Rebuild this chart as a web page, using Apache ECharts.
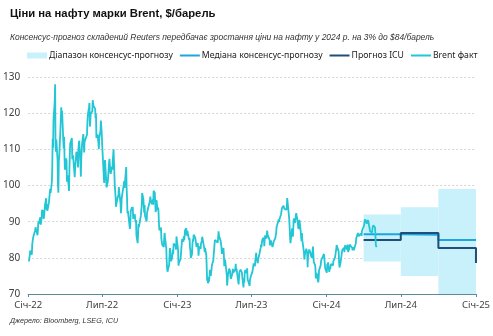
<!DOCTYPE html>
<html><head><meta charset="utf-8">
<script src="https://cdn.jsdelivr.net/npm/echarts@6/dist/echarts.min.js"></script>
<style>html,body{margin:0;padding:0;background:#fff}#c{width:493px;height:336px}</style>
</head><body><div id="c"></div>
<script>
// ---- Data ----
const titleText = 'Ціни на нафту марки Brent, $/барель';
const subtitleText = 'Консенсус-прогноз складений Reuters передбачає зростання ціни на нафту у 2024 р. на 3% до $84/барель';
const sourceText = 'Джерело: Bloomberg, LSEG, ICU';
const seriesNames = ['Діапазон консенсус-прогнозу', 'Медіана консенсус-прогнозу', 'Прогноз ICU', 'Brent факт'];
const monthNames = ['Січ','Лют','Бер','Кві','Тра','Чер','Лип','Сер','Вер','Жов','Лис','Гру'];

// Quarterly forecast periods (start, end)
const quarterStarts = ['2024-04-01', '2024-07-01', '2024-10-01'];
const quarterEnds   = ['2024-07-01', '2024-10-01', '2025-01-01'];
const rangeLow  = [79, 75, 70];
const rangeHigh = [92, 94, 99];
// Step line points (quarter starts + end of horizon)
const forecastDates = ['2024-04-01', '2024-07-01', '2024-10-01', '2025-01-01'];
const medianValues  = [86.5, 86.4, 84.9, 84.9];
const icuValues     = [84.9, 86.9, 82.7, 78.6];

// Brent daily closes
const brent2022Days = ['01-03','01-04','01-05','01-06','01-07','01-10','01-11','01-12','01-13','01-14','01-17','01-18','01-19','01-20','01-21','01-24','01-25','01-26','01-27','01-28','01-31',
'02-01','02-02','02-03','02-04','02-07','02-08','02-09','02-10','02-11','02-14','02-15','02-16','02-17','02-18','02-21','02-22','02-23','02-24','02-25','02-28',
'03-01','03-02','03-03','03-04','03-07','03-08','03-09','03-10','03-11','03-14','03-15','03-16','03-17','03-18','03-21','03-22','03-23','03-24','03-25','03-28','03-29','03-30','03-31',
'04-01','04-04','04-05','04-06','04-07','04-08','04-11','04-12','04-13','04-14','04-18','04-19','04-20','04-21','04-22','04-25','04-26','04-27','04-28','04-29',
'05-02','05-03','05-04','05-05','05-06','05-09','05-10','05-11','05-12','05-13','05-16','05-17','05-18','05-19','05-20','05-23','05-24','05-25','05-26','05-27','05-30','05-31',
'06-01','06-02','06-03','06-06','06-07','06-08','06-09','06-10','06-13','06-14','06-15','06-16','06-17','06-20','06-21','06-22','06-23','06-24','06-27','06-28','06-29','06-30',
'07-01','07-05','07-06','07-07','07-08','07-11','07-12','07-13','07-14','07-15','07-18','07-19','07-20','07-21','07-22','07-25','07-26','07-27','07-28','07-29',
'08-01','08-02','08-03','08-04','08-05','08-08','08-09','08-10','08-11','08-12','08-15','08-16','08-17','08-18','08-19','08-22','08-23','08-24','08-25','08-26','08-29','08-30','08-31',
'09-01','09-02','09-06','09-07','09-08','09-09','09-12','09-13','09-14','09-15','09-16','09-19','09-20','09-21','09-22','09-23','09-26','09-27','09-28','09-29','09-30',
'10-03','10-04','10-05','10-06','10-07','10-10','10-11','10-12','10-13','10-14','10-17','10-18','10-19','10-20','10-21','10-24','10-25','10-26','10-27','10-28','10-31',
'11-01','11-02','11-03','11-04','11-07','11-08','11-09','11-10','11-11','11-14','11-15','11-16','11-17','11-18','11-21','11-22','11-23','11-24','11-25','11-28','11-29','11-30',
'12-01','12-02','12-05','12-06','12-07','12-08','12-09','12-12','12-13','12-14','12-15','12-16','12-19','12-20','12-21','12-22','12-23','12-27','12-28','12-29','12-30'];
const brent2022Values = [78.98,80.00,80.80,81.99,81.75,80.87,83.72,84.67,84.47,86.06,86.48,87.51,88.44,88.38,87.89,86.27,88.20,89.96,89.34,90.03,91.21,
89.16,89.47,91.11,93.27,92.69,90.78,91.55,91.41,94.44,96.48,93.28,94.81,92.97,93.54,95.39,96.84,96.84,99.08,97.93,100.99,
104.97,112.93,110.46,118.11,123.21,127.98,111.14,109.33,112.67,106.90,99.91,98.02,106.64,107.93,115.62,115.48,121.60,119.03,120.65,112.48,110.23,113.45,107.91,
104.39,107.53,106.64,101.07,100.58,102.78,98.48,104.64,108.78,111.70,113.16,107.25,106.80,108.33,106.65,102.32,104.99,105.32,107.59,109.34,
107.58,104.97,110.14,111.55,112.39,105.94,102.46,107.51,107.45,111.55,114.24,111.93,109.11,112.04,112.55,113.42,113.56,114.03,117.40,119.43,121.67,122.84,
116.29,117.61,119.72,119.51,120.57,123.58,123.07,122.01,122.27,121.17,118.51,119.81,113.12,114.13,114.65,111.74,110.05,113.12,115.09,117.98,116.26,114.81,
111.63,102.77,100.69,104.65,107.02,107.10,99.49,99.57,99.10,101.16,106.27,107.35,106.92,103.86,103.20,105.15,104.40,106.62,107.14,110.01,
100.03,100.54,96.78,94.12,94.92,96.65,96.31,97.40,99.60,98.15,95.10,92.34,93.65,96.59,96.72,96.48,100.22,101.22,99.34,100.99,105.09,99.31,96.49,
92.36,93.02,92.83,88.00,89.15,92.84,94.00,93.17,94.10,90.84,91.35,92.00,90.62,89.83,90.46,86.15,84.06,86.27,89.32,88.49,87.96,
88.86,91.80,93.37,94.42,97.92,96.19,94.29,92.45,94.57,91.63,91.62,90.03,92.41,92.38,93.50,93.26,93.52,95.69,96.96,95.77,94.83,
94.65,96.16,94.67,98.57,97.92,95.36,92.65,93.67,95.99,93.14,93.86,92.86,89.78,87.62,87.45,88.36,85.41,85.34,83.63,83.19,83.03,85.43,
86.88,85.57,82.68,79.35,77.17,76.15,76.10,77.99,80.68,82.70,81.21,79.04,79.80,79.99,82.20,80.98,83.92,84.33,83.26,82.26,85.91];

const brent2023Days = ['01-03','01-04','01-05','01-06','01-09','01-10','01-11','01-12','01-13','01-16','01-17','01-18','01-19','01-20','01-23','01-24','01-25','01-26','01-27','01-30','01-31',
'02-01','02-02','02-03','02-06','02-07','02-08','02-09','02-10','02-13','02-14','02-15','02-16','02-17','02-20','02-21','02-22','02-23','02-24','02-27','02-28',
'03-01','03-02','03-03','03-06','03-07','03-08','03-09','03-10','03-13','03-14','03-15','03-16','03-17','03-20','03-21','03-22','03-23','03-24','03-27','03-28','03-29','03-30','03-31',
'04-03','04-04','04-05','04-06','04-10','04-11','04-12','04-13','04-14','04-17','04-18','04-19','04-20','04-21','04-24','04-25','04-26','04-27','04-28',
'05-01','05-02','05-03','05-04','05-05','05-08','05-09','05-10','05-11','05-12','05-15','05-16','05-17','05-18','05-19','05-22','05-23','05-24','05-25','05-26','05-29','05-30','05-31',
'06-01','06-02','06-05','06-06','06-07','06-08','06-09','06-12','06-13','06-14','06-15','06-16','06-19','06-20','06-21','06-22','06-23','06-26','06-27','06-28','06-29','06-30',
'07-03','07-04','07-05','07-06','07-07','07-10','07-11','07-12','07-13','07-14','07-17','07-18','07-19','07-20','07-21','07-24','07-25','07-26','07-27','07-28','07-31',
'08-01','08-02','08-03','08-04','08-07','08-08','08-09','08-10','08-11','08-14','08-15','08-16','08-17','08-18','08-21','08-22','08-23','08-24','08-25','08-28','08-29','08-30','08-31',
'09-01','09-04','09-05','09-06','09-07','09-08','09-11','09-12','09-13','09-14','09-15','09-18','09-19','09-20','09-21','09-22','09-25','09-26','09-27','09-28','09-29',
'10-02','10-03','10-04','10-05','10-06','10-09','10-10','10-11','10-12','10-13','10-16','10-17','10-18','10-19','10-20','10-23','10-24','10-25','10-26','10-27','10-30','10-31',
'11-01','11-02','11-03','11-06','11-07','11-08','11-09','11-10','11-13','11-14','11-15','11-16','11-17','11-20','11-21','11-22','11-23','11-24','11-27','11-28','11-29','11-30',
'12-01','12-04','12-05','12-06','12-07','12-08','12-11','12-12','12-13','12-14','12-15','12-18','12-19','12-20','12-21','12-22','12-26','12-27','12-28','12-29'];
const brent2023Values = [82.10,77.84,78.69,78.57,79.65,80.10,82.67,84.03,85.28,84.46,85.92,84.98,86.16,87.63,88.19,86.13,86.12,87.47,86.66,84.90,85.46,
82.84,82.17,79.94,80.99,83.69,85.09,84.50,86.39,86.61,85.58,85.38,85.14,83.00,84.07,83.05,80.60,82.21,83.16,82.45,83.89,
84.31,84.75,85.83,86.18,83.29,82.66,81.59,82.78,80.77,77.45,73.69,74.70,72.97,73.79,75.32,76.69,75.91,74.99,78.12,78.65,78.28,79.27,79.77,
84.93,84.94,84.99,85.12,84.18,85.61,87.33,86.09,86.31,84.76,84.77,83.12,81.10,81.66,82.73,80.77,77.69,78.37,79.54,
79.31,75.32,72.33,72.50,75.30,77.01,77.44,76.41,74.98,74.17,75.23,74.91,76.96,75.86,75.58,75.99,76.84,78.36,76.26,76.95,77.07,73.54,72.66,
74.28,76.13,76.71,76.29,76.95,75.96,74.79,71.84,74.29,73.20,75.67,76.61,76.09,75.90,77.12,74.14,73.85,74.18,72.26,74.03,74.34,74.90,
74.65,76.25,76.65,76.52,78.47,77.69,79.40,80.11,81.36,79.87,78.50,79.63,79.46,79.64,81.07,82.74,83.64,82.92,84.24,84.99,85.56,
84.91,83.20,85.14,86.24,85.34,86.17,87.55,86.40,86.81,86.21,84.89,83.45,84.12,84.80,84.46,82.96,83.21,83.36,84.48,84.42,85.49,85.86,86.86,
88.55,88.00,90.04,90.60,89.92,90.65,90.64,92.06,91.88,93.70,93.93,94.43,94.34,93.53,93.30,93.27,93.29,93.96,96.55,95.38,95.31,
90.71,90.92,85.81,84.07,84.58,88.15,87.65,85.82,86.00,90.89,89.65,89.90,91.50,92.38,92.16,89.83,88.07,90.13,87.93,90.48,87.45,87.41,
84.63,86.85,84.89,85.18,81.61,79.54,80.01,81.43,82.52,82.47,81.18,77.42,80.61,82.32,82.45,81.96,81.42,80.58,79.98,81.68,83.10,82.83,
78.88,78.03,77.20,74.30,74.05,75.84,76.03,73.24,74.26,76.61,76.55,77.95,79.23,79.70,79.39,79.07,81.07,79.65,78.39,77.04];

const brent2024Days = ['01-02','01-03','01-04','01-05','01-08','01-09','01-10','01-11','01-12','01-15','01-16','01-17','01-18','01-19','01-22','01-23','01-24','01-25','01-26','01-29','01-30','01-31',
'02-01','02-02','02-05','02-06','02-07','02-08','02-09','02-12','02-13','02-14','02-15','02-16','02-19','02-20','02-21','02-22','02-23','02-26','02-27','02-28','02-29',
'03-01','03-04','03-05','03-06','03-07','03-08','03-11','03-12','03-13','03-14','03-15','03-18','03-19','03-20','03-21','03-22','03-25','03-26','03-27','03-28',
'04-01','04-02','04-03','04-04','04-05','04-08','04-09','04-10','04-11','04-12','04-15','04-16','04-17','04-18','04-19','04-22','04-23','04-24','04-25','04-26','04-29','04-30',
'05-01','05-02','05-03'];
const brent2024Values = [75.89,78.25,77.59,78.76,76.12,77.59,76.80,77.41,78.29,78.15,78.29,77.88,79.10,78.56,80.06,79.55,80.04,82.43,83.55,82.40,82.87,81.71,
78.70,77.33,78.99,78.59,79.21,81.63,82.19,82.00,82.77,81.60,82.86,83.47,83.56,82.34,83.03,83.67,81.62,82.53,83.65,83.68,83.62,
83.55,82.80,82.04,82.96,82.96,82.08,82.21,81.92,84.03,85.42,85.34,86.89,87.38,85.95,85.78,85.43,86.75,86.25,86.09,87.48,
87.42,88.92,89.35,90.65,91.17,90.38,89.42,90.48,89.74,90.45,90.10,90.02,87.29,87.11,87.29,87.00,88.42,88.02,89.01,89.50,88.40,87.86,
83.44,83.67,82.96];

const yMin = 70, yMax = 130, yStep = 10;
const xMin = '2022-01-01', xMax = '2025-01-01';

// ---- Build ----
function toTs(s) { const p = s.split('-').map(Number); return new Date(p[0], p[1] - 1, p[2]).getTime(); }
function join(year, days, vals) { return days.map((d, i) => [toTs(year + '-' + d), vals[i]]); }
const brentData = [].concat(join(2022, brent2022Days, brent2022Values), join(2023, brent2023Days, brent2023Values), join(2024, brent2024Days, brent2024Values));
const rangeData = quarterStarts.map((s, i) => [toTs(s), toTs(quarterEnds[i]), rangeLow[i], rangeHigh[i]]);
const medianData = forecastDates.map((d, i) => [toTs(d), medianValues[i]]);
const icuData = forecastDates.map((d, i) => [toTs(d), icuValues[i]]);

const C = { range: '#c8f1fc', median: '#1ba6e0', icu: '#1f4e79', brent: '#22c6d5', axis: '#5d8a99', text: '#404040' };
const FONT = 'Noto Sans';
const DAY = 86400000;
const noSym = { opacity: 0 };

const chart = echarts.init(document.getElementById('c'), null, { renderer: 'canvas' });
chart.setOption({
  animation: false,
  backgroundColor: '#fff',
  title: [
    { text: titleText, left: 5, top: 3, textStyle: { fontFamily: 'Liberation Sans', fontWeight: 'bold', fontSize: 11.3, color: '#111' } },
    { text: subtitleText, left: 5, top: 29, textStyle: { fontFamily: 'Liberation Sans', fontStyle: 'italic', fontWeight: 'normal', fontSize: 8.45, color: '#333' } },
    { text: sourceText, left: 5, top: 312, textStyle: { fontFamily: 'Liberation Sans', fontStyle: 'italic', fontWeight: 'normal', fontSize: 7.2, color: '#333' } }
  ],
  legend: {
    left: 27, top: 51, padding: 0, itemWidth: 20, itemHeight: 6, itemGap: 6,
    textStyle: { fontFamily: FONT, fontSize: 8.7, color: '#222', padding: [0, 0, 0, -3] },
    data: [
      { name: seriesNames[0], icon: 'rect' },
      { name: seriesNames[1], itemStyle: noSym },
      { name: seriesNames[2], itemStyle: noSym },
      { name: seriesNames[3], itemStyle: noSym }
    ]
  },
  grid: { left: 28, right: 16, top: 77, bottom: 42, containLabel: false },
  xAxis: {
    type: 'time', min: toTs(xMin), max: toTs(xMax),
    splitNumber: 6, minInterval: 180 * DAY, maxInterval: 186 * DAY,
    axisLine: { show: true, lineStyle: { color: C.axis, width: 1 } },
    axisTick: { show: true, length: 3, lineStyle: { color: C.axis } },
    splitLine: { show: false },
    axisLabel: {
      fontFamily: FONT, fontSize: 9.5, color: C.text, margin: 6, showMinLabel: true, showMaxLabel: true,
      formatter: function (v) { const d = new Date(v); return monthNames[d.getMonth()] + '-' + String(d.getFullYear()).slice(2); }
    }
  },
  yAxis: {
    type: 'value', min: yMin, max: yMax, interval: yStep,
    axisLine: { show: false }, axisTick: { show: false },
    axisLabel: { fontFamily: FONT, fontSize: 10, color: C.text, margin: 8 },
    splitLine: { show: true, lineStyle: { color: '#d4d4d4', type: [2, 2], width: 1 } }
  },
  series: [
    {
      name: seriesNames[0], type: 'custom', z: 1,
      itemStyle: { color: C.range },
      encode: { x: [0, 1], y: [2, 3] },
      data: rangeData,
      renderItem: function (params, api) {
        const p1 = api.coord([api.value(0), api.value(3)]);
        const p2 = api.coord([api.value(1), api.value(2)]);
        return { type: 'rect', shape: { x: p1[0], y: p1[1], width: p2[0] - p1[0], height: p2[1] - p1[1] }, style: { fill: C.range } };
      }
    },
    { name: seriesNames[1], type: 'line', step: 'end', symbol: 'none', z: 3, data: medianData, lineStyle: { color: C.median, width: 2 }, itemStyle: { color: C.median } },
    { name: seriesNames[2], type: 'line', step: 'end', symbol: 'none', z: 4, data: icuData, lineStyle: { color: C.icu, width: 2 }, itemStyle: { color: C.icu } },
    { name: seriesNames[3], type: 'line', symbol: 'none', z: 5, data: brentData, lineStyle: { color: C.brent, width: 1.8 }, itemStyle: { color: C.brent } }
  ]
});
</script></body></html>
